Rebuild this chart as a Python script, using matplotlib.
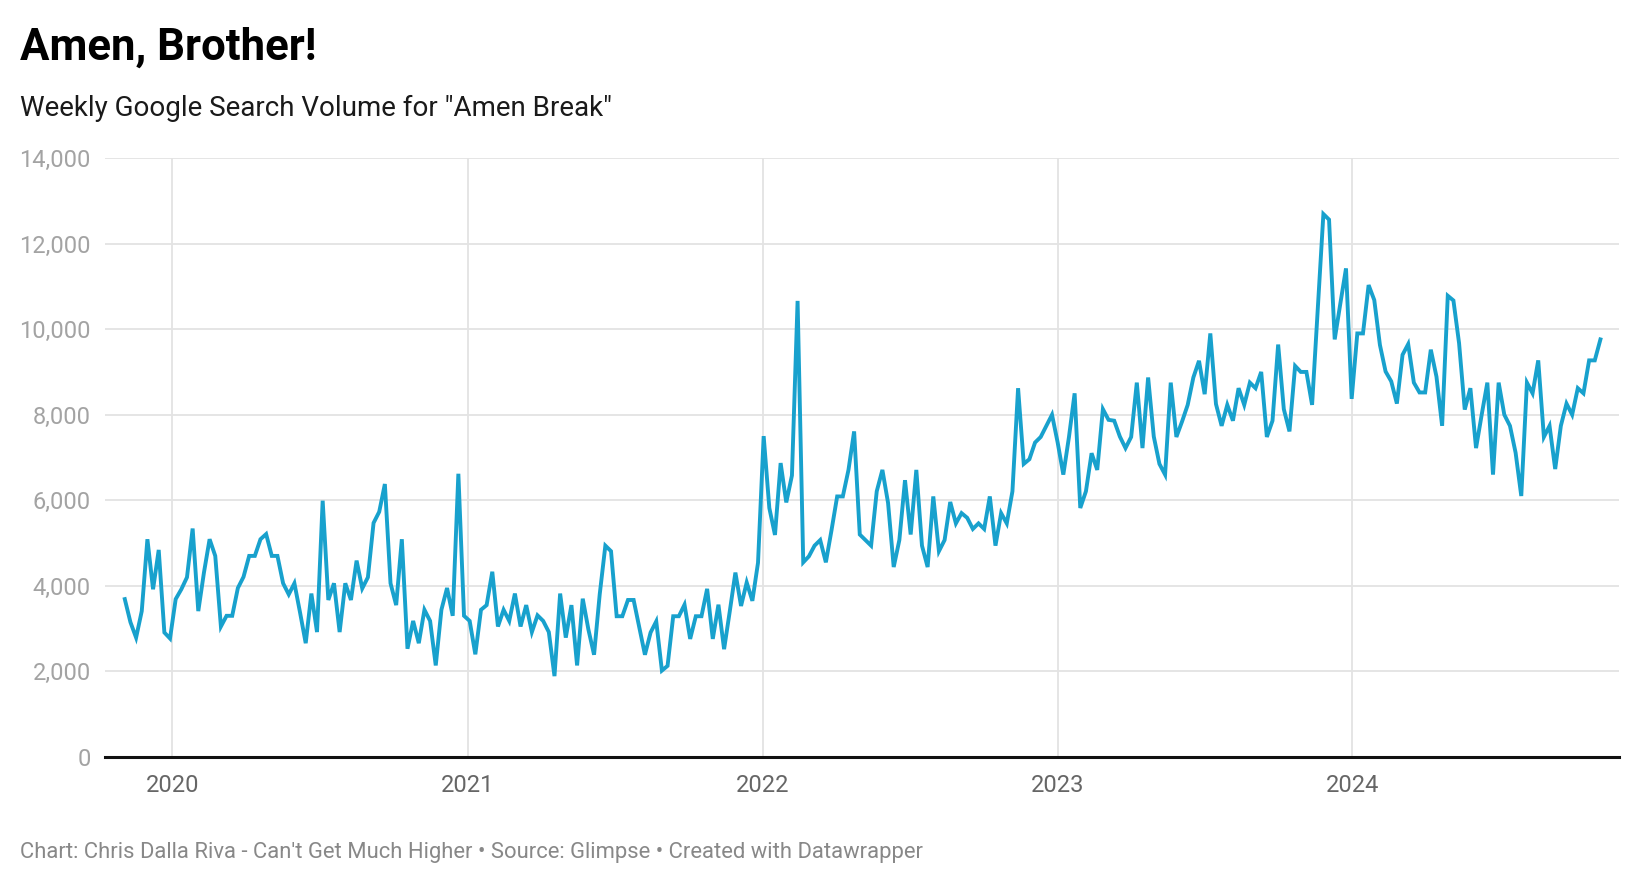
import matplotlib
matplotlib.use("Agg")
import matplotlib.pyplot as plt
import matplotlib.dates as mdates
from matplotlib.ticker import FuncFormatter
import pandas as pd

plt.rcParams['font.family'] = ['Roboto', 'DejaVu Sans']

# weekly search volume, first week 2019-11-03
volume_2019_2021 = [
    3690, 3150, 2790, 3410, 5090, 3920, 4840, 2910, 2770, 3690,
    3920, 4200, 5340, 3410, 4310, 5090, 4700, 3050, 3300, 3300,
    3950, 4210, 4700, 4700, 5090, 5210, 4700, 4700, 4060, 3800,
    4060, 3375, 2660, 3820, 2920, 5990, 3670, 4060, 2920, 4060,
    3670, 4590, 3940, 4200, 5470, 5730, 6380, 4060, 3550, 5090,
    2530, 3180, 2660, 3440, 3180, 2140, 3440, 3950, 3300, 6620,
    3300, 3180, 2400, 3440, 3550, 4330, 3050, 3440, 3180, 3820,
    3050, 3550, 2920, 3310, 3180, 2920, 1890, 3820, 2790, 3550,
    2140, 3700, 2980, 2390, 3800, 4940, 4810, 3290, 3290, 3670,
    3670, 3030, 2390, 2910, 3170, 2020, 2130, 3290, 3290, 3560,
    2760, 3290, 3290, 3930, 2760, 3560, 2520, 3400, 4310, 3530,
    4080, 3650, 4540,
]
volume_2022 = [
    7500, 5820, 5190, 6870, 5950, 6580, 10660, 4550, 4690, 4940,
    5070, 4550, 5300, 6090, 6090, 6710, 7610, 5200, 5070, 4940,
    6210, 6710, 5940, 4440, 5070, 6470, 5200, 6710, 4940, 4440,
    6090, 4810, 5070, 5960, 5460, 5700, 5590, 5330, 5460, 5330,
    6090, 4940, 5700, 5460, 6210, 8620, 6850, 6960, 7350, 7480,
    7740, 8000, 7350, 6600, 7480, 8500,
]
volume_2023 = [
    5820, 6210, 7100, 6710, 8130, 7880, 7860, 7490, 7220, 7480,
    8750, 7220, 8870, 7490, 6850, 6600, 8750, 7480, 7840, 8230,
    8870, 9260, 8480, 9900, 8250, 7740, 8230, 7860, 8620, 8230,
    8750, 8620, 9000, 7480, 7860, 9640, 8130, 7610, 9140, 9000,
    9000, 8230, 10460, 12690, 12560, 9760, 10600, 11420,
]
volume_2024 = [
    8370, 9900, 9900, 11030, 10680, 9630, 9010, 8780, 8260, 9400,
    9650, 8750, 8520, 8520, 9520, 8890, 7740, 10780, 10670, 9670,
    8120, 8620, 7220, 8000, 8750, 6600, 8750, 8000, 7740, 7110,
    6100, 8750, 8500, 9270, 7480, 7740, 6730, 7740, 8260, 8000,
    8620, 8500, 9270, 9270, 9760,
]
volume = volume_2019_2021 + volume_2022 + volume_2023 + volume_2024
weeks = pd.date_range("2019-11-03", periods=len(volume), freq="7D")

year_ticks = pd.to_datetime(["2020-01-01", "2021-01-01", "2022-01-01", "2023-01-01", "2024-01-01"])
year_labels = ["2020", "2021", "2022", "2023", "2024"]
y_ticks = [0, 2000, 4000, 6000, 8000, 10000, 12000, 14000]

fig = plt.figure(figsize=(16.4, 8.84), dpi=100)
ax = fig.add_axes([104.6 / 1640, 1 - 757 / 884, (1619 - 104.6) / 1640, (757 - 158) / 884])

ax.plot(weeks, volume, color="#18a1cd", linewidth=2.8, solid_joinstyle="miter", zorder=3)

ax.set_xlim(pd.Timestamp("2019-10-09"), pd.Timestamp("2024-11-26"))
ax.set_ylim(0, 14000)

ax.set_yticks(y_ticks)
ax.yaxis.set_major_formatter(FuncFormatter(lambda v, p: f"{int(v):,}"))
ax.set_xticks(year_ticks)
ax.set_xticklabels(year_labels)

ax.grid(True, color="#e3e3e3", linewidth=1.3)
ax.set_axisbelow(True)
for s in ["top", "right", "left"]:
    ax.spines[s].set_visible(False)
ax.spines["bottom"].set_color("#111111")
ax.spines["bottom"].set_linewidth(2.2)
ax.spines["bottom"].set_zorder(4)

ax.tick_params(axis="y", length=0, pad=10, labelsize=17, labelcolor="#a3a3a3")
ax.tick_params(axis="x", length=0, pad=12, labelsize=17, labelcolor="#666666")

fig.text(20 / 1640, 1 - 60 / 884, "Amen, Brother!", fontsize=31.5, fontweight="bold",
         color="#000000", va="baseline", ha="left")
fig.text(20 / 1640, 1 - 116 / 884, 'Weekly Google Search Volume for "Amen Break"',
         fontsize=20, color="#1a1a1a", va="baseline", ha="left")
fig.text(20 / 1640, 1 - 858 / 884,
         "Chart: Chris Dalla Riva - Can't Get Much Higher \u2022 Source: Glimpse \u2022 Created with Datawrapper",
         fontsize=15.8, color="#888888", va="baseline", ha="left")

fig.savefig("out.png", dpi=100, facecolor="white")
